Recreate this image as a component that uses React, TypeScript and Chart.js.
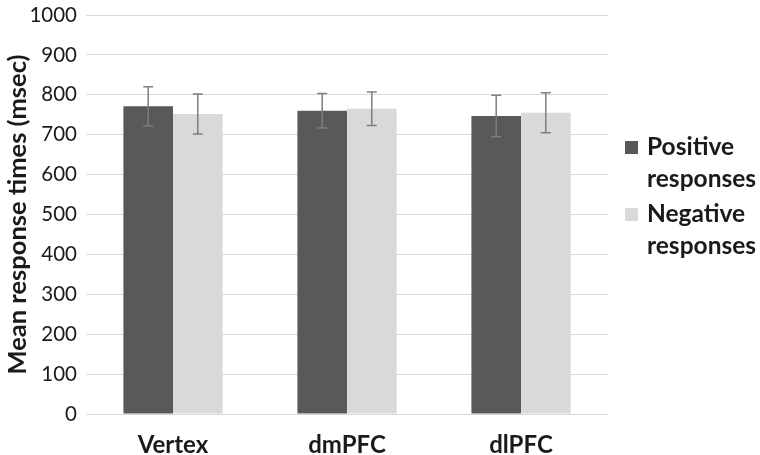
import React, { useEffect, useRef } from "react";
import { Chart, registerables } from "chart.js";

Chart.register(...registerables);

const categories = ["Vertex", "dmPFC", "dlPFC"];
const seriesNames = [["Positive", "responses"], ["Negative", "responses"]];
const positiveValues = [771, 760, 747];
const positiveErrors = [49, 43, 52];
const negativeValues = [752, 765, 755];
const negativeErrors = [50, 42, 50];
const yTicks = [0, 100, 200, 300, 400, 500, 600, 700, 800, 900, 1000];
const yTitle = "Mean response times (msec)";

const DARK = "#595959";
const LIGHT = "#d9d9d9";
const TEXT = "#1a1a1a";

const errorBarPlugin = {
  id: "errorBars",
  afterDatasetsDraw(chart: any) {
    const { ctx, scales } = chart;
    const yScale = scales.y;
    ctx.save();
    ctx.strokeStyle = "#7f7f7f";
    ctx.lineWidth = 1.5;
    chart.data.datasets.forEach((ds: any, di: number) => {
      const meta = chart.getDatasetMeta(di);
      const errs: number[] = ds.errors || [];
      meta.data.forEach((bar: any, i: number) => {
        const v = ds.data[i];
        const e = errs[i];
        const x = bar.x;
        const yTop = yScale.getPixelForValue(v + e);
        const yBot = yScale.getPixelForValue(v - e);
        const cap = 5;
        ctx.beginPath();
        ctx.moveTo(x, yTop);
        ctx.lineTo(x, yBot);
        ctx.moveTo(x - cap, yTop);
        ctx.lineTo(x + cap, yTop);
        ctx.moveTo(x - cap, yBot);
        ctx.lineTo(x + cap, yBot);
        ctx.stroke();
      });
    });
    ctx.restore();
  },
};

const legendPlugin = {
  id: "customLegend",
  afterDraw(chart: any) {
    const { ctx, chartArea } = chart;
    const x0 = chartArea.right + 17;
    const tx = chartArea.right + 39;
    const firstBaselines = [155, 222];
    const lineGap = 32;
    ctx.save();
    ctx.font = "bold 24.5px Lato";
    ctx.fillStyle = TEXT;
    ctx.textBaseline = "alphabetic";
    ctx.textAlign = "left";
    chart.data.datasets.forEach((ds: any, di: number) => {
      const base = firstBaselines[di];
      ctx.fillStyle = ds.backgroundColor;
      ctx.fillRect(x0, base - 14, 13, 13);
      ctx.fillStyle = TEXT;
      const lines: string[] = seriesNames[di];
      lines.forEach((ln, li) => {
        ctx.fillText(ln, tx, base + li * lineGap);
      });
    });
    ctx.restore();
  },
};

export default function App() {
  const ref = useRef<HTMLCanvasElement | null>(null);
  useEffect(() => {
    if (!ref.current) return;
    const chart = new Chart(ref.current, {
      type: "bar",
      data: {
        labels: categories,
        datasets: [
          {
            label: seriesNames[0].join(" "),
            data: positiveValues,
            errors: positiveErrors,
            backgroundColor: DARK,
            categoryPercentage: 0.57,
            barPercentage: 1,
          } as any,
          {
            label: seriesNames[1].join(" "),
            data: negativeValues,
            errors: negativeErrors,
            backgroundColor: LIGHT,
            categoryPercentage: 0.57,
            barPercentage: 1,
          } as any,
        ],
      },
      options: {
        animation: false,
        responsive: true,
        maintainAspectRatio: false,
        layout: { padding: { top: 15, right: 152, left: 0, bottom: 0 } },
        plugins: {
          legend: { display: false },
          tooltip: { enabled: false },
        },
        scales: {
          x: {
            grid: { display: false },
            border: { display: false },
            ticks: {
              color: TEXT,
              font: { family: "Lato", size: 24, weight: "bold" },
              padding: 9,
            },
            afterFit(scale: any) {
              scale.height = 41;
              scale.paddingLeft = 0;
              scale.paddingRight = 0;
            },
          },
          y: {
            min: 0,
            max: 1000,
            afterBuildTicks(scale: any) {
              scale.ticks = yTicks.map((v) => ({ value: v }));
            },
            grid: { color: "#d9d9d9", lineWidth: 1, drawTicks: false },
            border: { display: false },
            ticks: {
              color: TEXT,
              font: { family: "Lato", size: 20.5 },
              padding: 9,
              callback: (v: any) => String(v),
            },
            title: {
              display: true,
              text: yTitle,
              color: TEXT,
              font: { family: "Lato", size: 25.5, weight: "bold" },
              padding: { top: 2, bottom: 0 },
            },
            afterFit(scale: any) {
              scale.width = 86;
              scale.paddingTop = 0;
              scale.paddingBottom = 0;
            },
          },
        },
      },
      plugins: [errorBarPlugin, legendPlugin],
    } as any);
    return () => chart.destroy();
  }, []);
  return (
    <div style={{ position: "absolute", left: 0, top: 0, width: 760, height: 455, background: "#fff" }}>
      <canvas ref={ref} />
    </div>
  );
}
